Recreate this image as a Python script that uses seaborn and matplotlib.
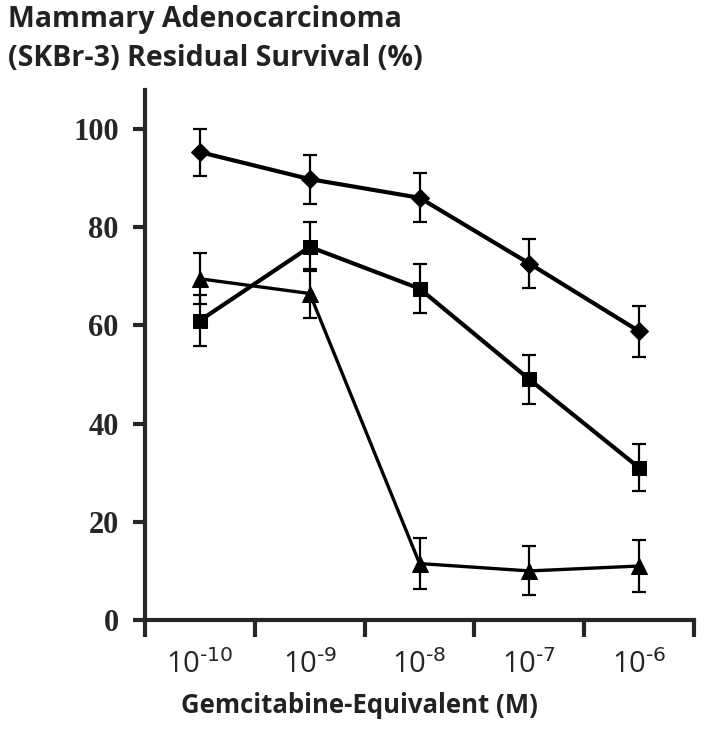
import pandas as pd
import matplotlib.pyplot as plt
import seaborn as sns

# Data
concentrations = ["-10", "-9", "-8", "-7", "-6"]
diamond_vals = [95.3, 89.8, 86.0, 72.6, 58.8]
diamond_err = [4.8, 5.0, 5.0, 5.0, 5.2]
square_vals = [61.0, 76.0, 67.5, 49.0, 31.0]
square_err = [5.2, 5.0, 5.0, 5.0, 4.8]
triangle_vals = [69.5, 66.5, 11.5, 10.0, 11.0]
triangle_err = [5.2, 5.0, 5.2, 5.0, 5.2]

series_names = ["diamond", "square", "triangle"]
series_vals = [diamond_vals, square_vals, triangle_vals]
series_err = [diamond_err, square_err, triangle_err]
series_markers = {"diamond": "D", "square": "s", "triangle": "^"}
series_sizes = {"diamond": 9.5, "square": 10, "triangle": 11}
series_lw = {"diamond": 3.0, "square": 3.0, "triangle": 2.4}

rows = []
for name, vals, errs in zip(series_names, series_vals, series_err):
    for i, (v, e) in enumerate(zip(vals, errs)):
        rows.append({"series": name, "pos": i, "value": v, "err": e})
df = pd.DataFrame(rows)

sns.set_style("ticks")
plt.rcParams["font.family"] = ["Liberation Serif", "DejaVu Serif"]

fig = plt.figure(figsize=(7.04, 7.5), dpi=100)
ax = fig.add_axes([0.206, 0.1733, 0.78, 0.707])

for name in series_names:
    sub = df[df["series"] == name]
    ax.errorbar(sub["pos"], sub["value"], yerr=sub["err"], fmt="none",
                ecolor="black", elinewidth=1.6, capsize=5, capthick=1.6, zorder=2)
    sns.lineplot(data=sub, x="pos", y="value", ax=ax, color="black",
                 marker=series_markers[name], markersize=series_sizes[name],
                 markeredgecolor="black", linewidth=series_lw[name],
                 errorbar=None, zorder=3)

ax.set_xlim(-0.5, 4.5)
ax.set_ylim(0, 108)

# tick marks sit at category boundaries, labels centred under the points
ax.set_xticks([i + 0.5 for i in range(-1, 5)], minor=True)
ax.set_xticks(range(len(concentrations)))
ax.set_xticklabels([r"$\mathregular{10^{\text{" + c + "}}}$" for c in concentrations],
                   family="Open Sans", fontsize=21)
ax.tick_params(axis="x", which="major", length=0, pad=22)
ax.tick_params(axis="x", which="minor", length=12, width=3, direction="out")

ax.set_yticks([0, 20, 40, 60, 80, 100])
ax.tick_params(axis="y", length=9, width=3, direction="out", pad=10)
for lab in ax.get_yticklabels():
    lab.set_fontsize(22)
    lab.set_fontweight("bold")

for side in ["top", "right"]:
    ax.spines[side].set_visible(False)
for side in ["left", "bottom"]:
    ax.spines[side].set_linewidth(3)

ax.set_xlabel("Gemcitabine-Equivalent (M)", family="Open Sans", fontweight="bold",
              fontsize=18.5, color="#222222")
ax.xaxis.set_label_coords(0.39, -0.135)
ax.set_ylabel("")

fig.text(0.012, 0.993, "Mammary Adenocarcinoma\n(SKBr-3) Residual Survival (%)",
         family="Open Sans", fontweight="bold", fontsize=20.5, va="top", ha="left",
         linespacing=1.45, color="#222222")

fig.savefig("out.png", dpi=100)
